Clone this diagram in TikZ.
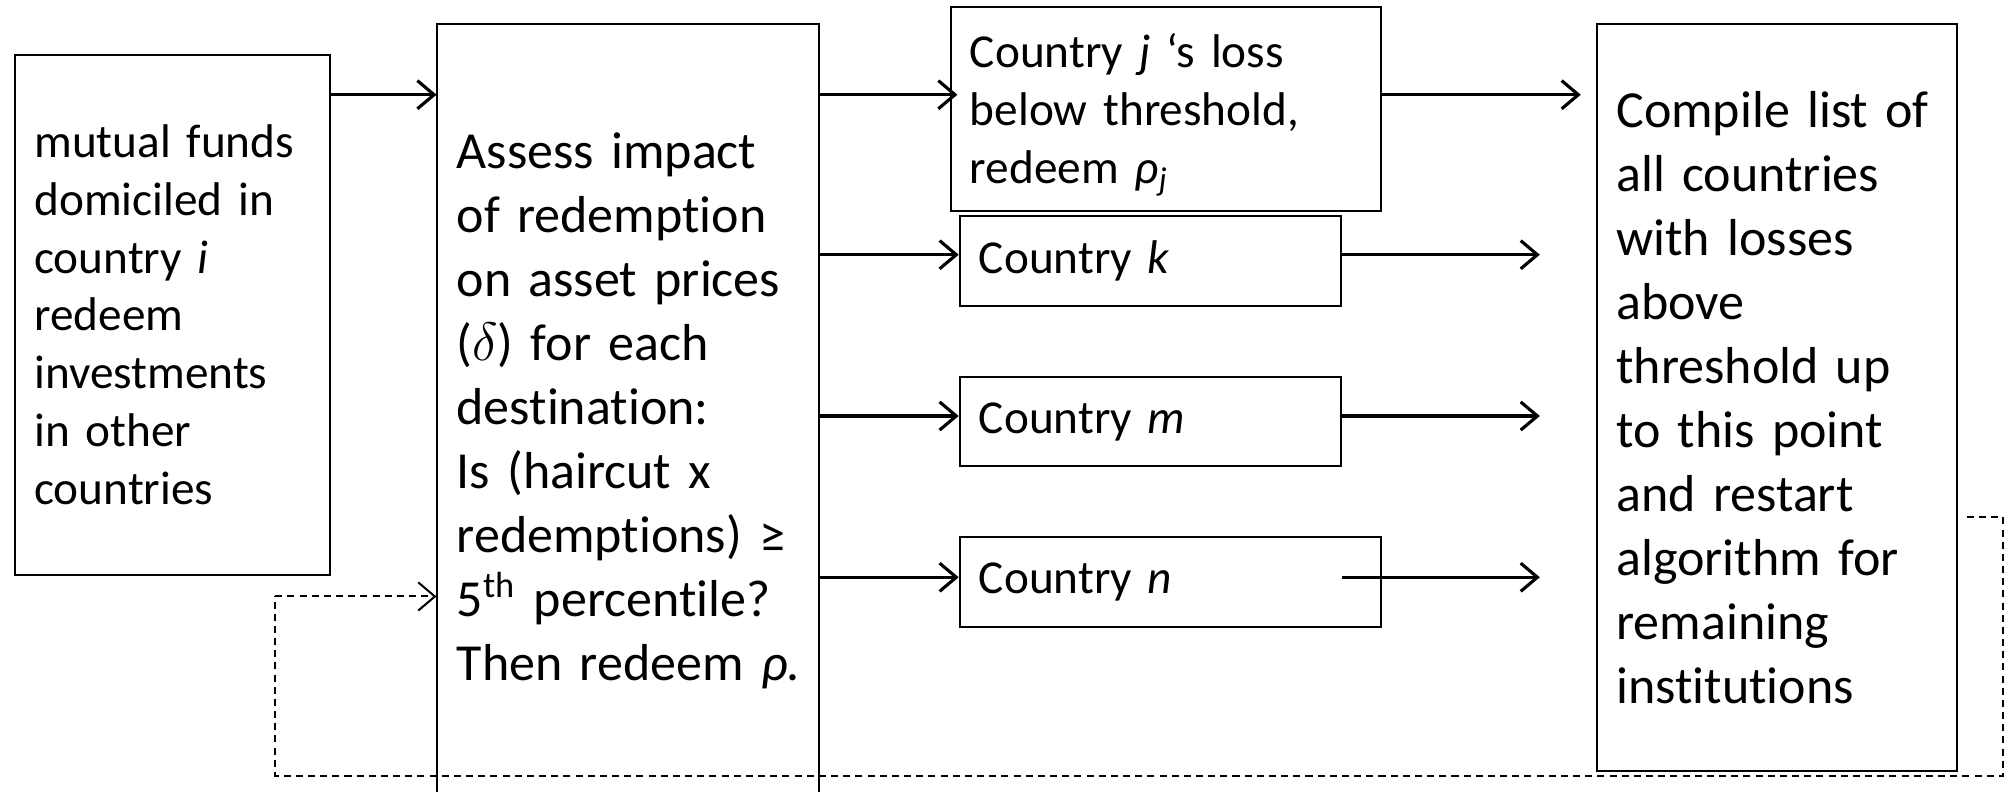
\documentclass[tikz,border=0pt]{standalone}
\usepackage{fontspec}
\setmainfont{Carlito}[Ligatures={NoCommon}]
\usetikzlibrary{arrows.meta,calc}
\hyphenpenalty=10000
\exhyphenpenalty=10000
\begin{document}
\begin{tikzpicture}[x=0.01cm,y=-0.01cm,
  box/.style={draw, line width=0.45pt, inner ysep=0pt, inner xsep=0.15cm, align=left, anchor=north west},
  big/.style={font=\fontsize{11.55}{14.23}\selectfont},
  small/.style={font=\fontsize{10.5}{12.85}\selectfont},
  arr/.style={line width=0.7pt, -{Straight Barb[length=1.3mm,width=2.2mm]}},
  loop/.style={line width=0.45pt, dash pattern=on 0.055cm off 0.04cm}]
\useasboundingbox (0,0) rectangle (1568,618);
% boxes
\node[box, small, minimum width=2.46cm, minimum height=4.06cm, text width=2.16cm] (b1) at (11,42)
  {mutual funds\\domiciled in\\country \textit{i}\\redeem\\investments\\in other\\countries};
\node[box, big, minimum width=2.98cm, minimum height=6.04cm, text width=2.68cm] (b2) at (341,18)
  {Assess impact\\of redemption\\on asset prices\\($\delta$) for each\\destination:\\Is (haircut x\\\mbox{redemptions) ≥}\\\mbox{5\textsuperscript{th} percentile?}\\\mbox{Then redeem \textit{ρ.}}};
\node[box, small, minimum width=3.36cm, minimum height=1.59cm, text width=3.06cm] (j) at (742,5)
  {\rule{0pt}{0.36cm}Country \textit{j} ‘s loss\\below threshold,\\redeem \textit{ρ\textsubscript{j}}};
\node[box, small, minimum width=2.98cm, minimum height=0.70cm, text width=2.68cm] (k) at (749,168)
  {Country \textit{k}};
\node[box, small, minimum width=2.98cm, minimum height=0.69cm, text width=2.68cm] (m) at (749,294)
  {Country \textit{m}};
\node[box, small, minimum width=3.29cm, minimum height=0.70cm, text width=2.99cm] (n) at (749,419)
  {Country \textit{n}};
\node[box, big, minimum width=2.81cm, minimum height=5.83cm, text width=2.51cm] (r) at (1247,18)
  {Compile list of\\all countries\\with losses\\above\\threshold up\\to this point\\and restart\\algorithm for\\remaining\\institutions};
% levels
\coordinate (y1) at (0,74);
\coordinate (y2) at (0,199);
\coordinate (y3) at (0,325);
\coordinate (y4) at (0,451);
\coordinate (yl) at (0,404);
\coordinate (e2) at (1203,0);
% connectors
\draw[arr] (b1.east |- y1) -- (b2.west |- y1);
\draw[arr] (b2.east |- y1) -- ($(j.west |- y1)+(6,0)$);
\draw[arr] (j.east |- y1) -- ($(r.west |- y1)+(-12,0)$);
\draw[arr] (b2.east |- y2) -- (k.west |- y2);
\draw[arr] (k.east |- y2) -- (e2 |- y2);
\draw[arr] (b2.east |- y3) -- (m.west |- y3);
\draw[arr] (m.east |- y3) -- (e2 |- y3);
\draw[arr] (b2.east |- y4) -- (n.west |- y4);
\draw[arr] (m.east |- y4) -- (e2 |- y4);
% feedback loop
\coordinate (l0) at ($(r.east |- yl)+(7,0)$);
\coordinate (l1) at (1565,404);
\coordinate (l2) at (1565,606);
\coordinate (l3) at (215,606);
\coordinate (l4) at (215,466);
\draw[loop] (l0) -- (l1) -- (l2) -- (l3) -- (l4);
\draw[loop, -{Straight Barb[length=1.3mm,width=2.2mm]}] (l4) -- (b2.west |- l4);
\end{tikzpicture}
\end{document}
